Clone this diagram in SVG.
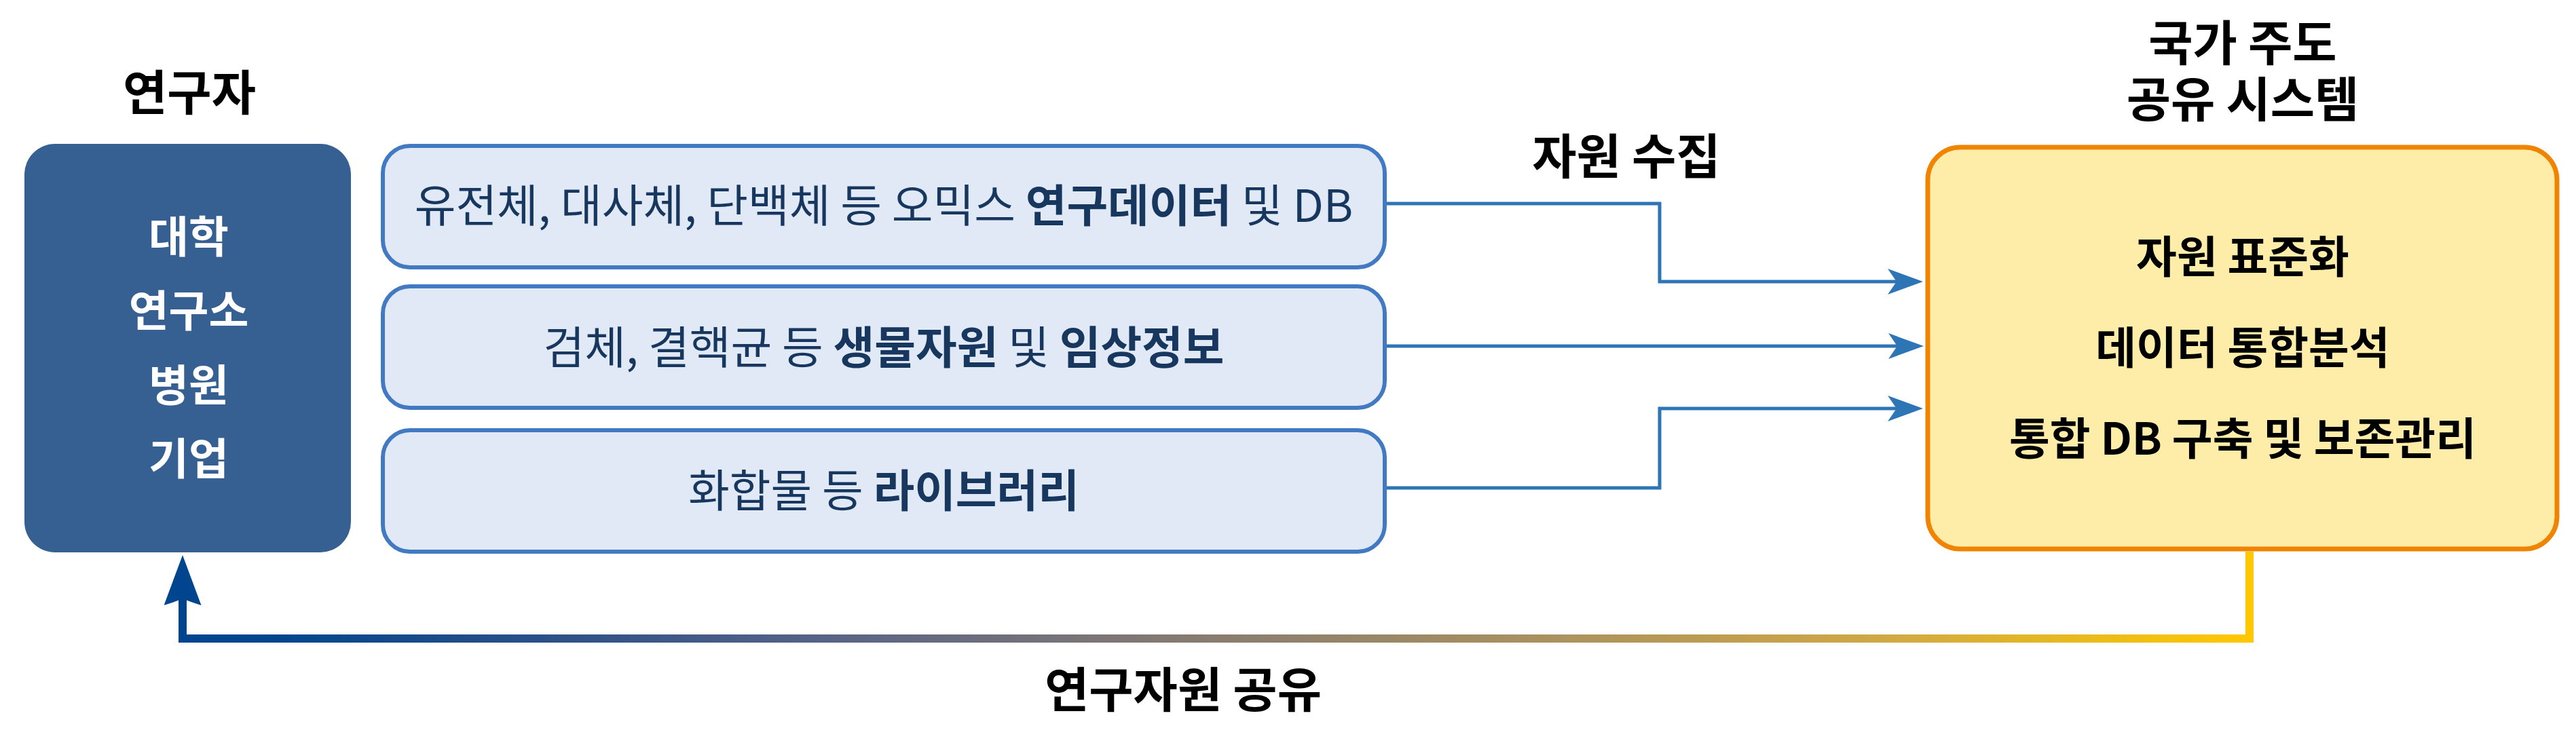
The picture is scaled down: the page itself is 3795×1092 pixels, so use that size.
<svg xmlns="http://www.w3.org/2000/svg" width="3795" height="1092" viewBox="0 0 3795 1092">
<style>
  text { font-family: "Noto Sans CJK KR", "Noto Sans", sans-serif; text-anchor: middle; }
  .title { font-size: 71px; font-weight: bold; fill: #000000; }
  .lefttxt { font-size: 64px; font-weight: bold; fill: #FFFFFF; }
  .midtxt { font-size: 66px; font-weight: normal; fill: #17375E; }
  .b { font-weight: bold; }
  .righttxt { font-size: 65px; font-weight: bold; fill: #000000; }
  .midbox { fill: #E1E9F6; stroke: #4179C2; stroke-width: 6; }
  .conn { fill: none; stroke: #2E75B6; stroke-width: 5; }
</style>
<defs>
  <marker id="arrBlue" viewBox="0 0 52 38" markerWidth="52" markerHeight="38" refX="13" refY="19" orient="auto" markerUnits="userSpaceOnUse">
    <path d="M0,0 L52,19 L0,38 L13,19 Z" fill="#2E75B6"/>
  </marker>
  <marker id="arrNavy" viewBox="0 0 74 55" markerWidth="74" markerHeight="55" refX="10" refY="27.5" orient="auto" markerUnits="userSpaceOnUse">
    <path d="M0,0 L74,27.5 L0,55 Q6,36 10,27.5 Q6,19 0,0 Z" fill="#00458D"/>
  </marker>
  <linearGradient id="shareGrad" gradientUnits="userSpaceOnUse" x1="263" y1="0" x2="3320" y2="0">
    <stop offset="0" stop-color="#00448F"/>
    <stop offset="0.05" stop-color="#01468D"/>
    <stop offset="0.18" stop-color="#2C5088"/>
    <stop offset="0.32" stop-color="#5A6585"/>
    <stop offset="0.48" stop-color="#857A72"/>
    <stop offset="0.65" stop-color="#A89060"/>
    <stop offset="0.82" stop-color="#CFA845"/>
    <stop offset="0.95" stop-color="#F2C010"/>
    <stop offset="1" stop-color="#FFC800"/>
  </linearGradient>
</defs>

<g id="connectors">
  <path class="conn" d="M2040,300 L2445,300 L2445,415 L2794,415" marker-end="url(#arrBlue)"/>
  <path class="conn" d="M2040,510 L2795,510" marker-end="url(#arrBlue)"/>
  <path class="conn" d="M2040,719 L2445,719 L2445,602 L2794,602" marker-end="url(#arrBlue)"/>
  <path d="M3314,813 L3314,941 L269,941 L269,882" fill="none" stroke="url(#shareGrad)" stroke-width="12" marker-end="url(#arrNavy)"/>
</g>

<g id="label-collect">
  <text class="title" x="2396" y="256">자원 수집</text>
</g>
<g id="label-share">
  <text class="title" x="1743" y="1042">연구자원 공유</text>
</g>

<g id="researchers">
  <text class="title" x="279" y="162">연구자</text>
  <rect x="36" y="212" width="481" height="602" rx="45" ry="45" fill="#366092"/>
  <text class="lefttxt" x="278" y="372">대학</text>
  <text class="lefttxt" x="278" y="481">연구소</text>
  <text class="lefttxt" x="278" y="591">병원</text>
  <text class="lefttxt" x="278" y="699">기업</text>
</g>

<g id="omics">
  <rect class="midbox" x="564" y="215" width="1476" height="179" rx="40" ry="40"/>
  <text class="midtxt" x="1302" y="327">유전체, 대사체, 단백체 등 오믹스 <tspan class="b">연구데이터</tspan> 및 DB</text>
</g>
<g id="bio">
  <rect class="midbox" x="564" y="422" width="1476" height="179" rx="40" ry="40"/>
  <text class="midtxt" x="1302" y="536">검체, 결핵균 등 <tspan class="b">생물자원</tspan> 및 <tspan class="b">임상정보</tspan></text>
</g>
<g id="library">
  <rect class="midbox" x="564" y="634" width="1476" height="179" rx="40" ry="40"/>
  <text class="midtxt" x="1302" y="747">화합물 등 <tspan class="b">라이브러리</tspan></text>
</g>

<g id="national-system">
  <text class="title" x="3304" y="89"><tspan x="3304" y="89">국가 주도</tspan><tspan x="3304" y="172">공유 시스템</tspan></text>
  <rect x="2840" y="217" width="927" height="592" rx="48" ry="48" fill="#FEECA9" stroke="#F08400" stroke-width="7"/>
  <text class="righttxt" x="3304" y="402">자원 표준화</text>
  <text class="righttxt" x="3304" y="536">데이터 통합분석</text>
  <text class="righttxt" x="3304" y="670">통합 DB 구축 및 보존관리</text>
</g>
</svg>
